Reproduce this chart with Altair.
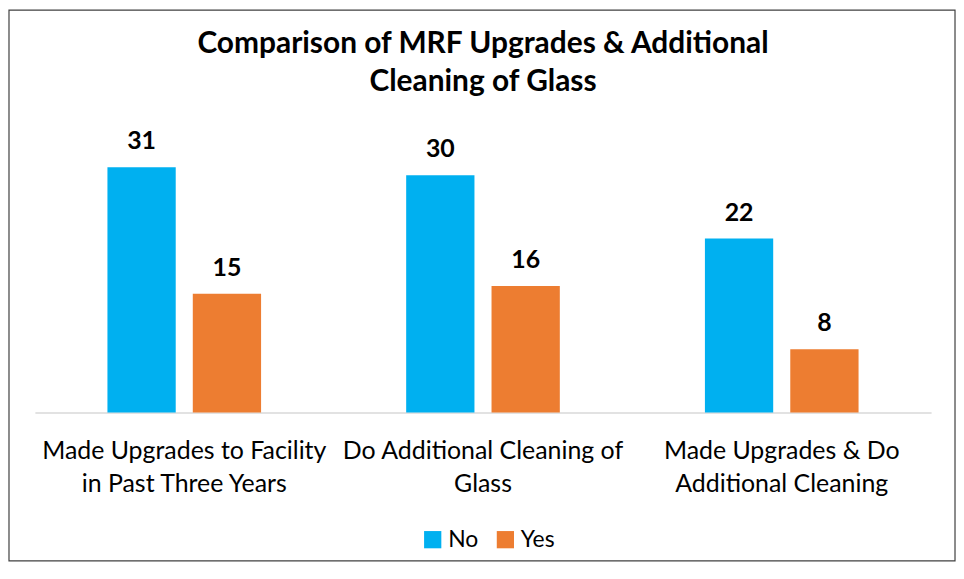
import altair as alt
import pandas as pd

categories = [
    "Made Upgrades to Facility\nin Past Three Years",
    "Do Additional Cleaning of\nGlass",
    "Made Upgrades & Do\nAdditional Cleaning",
]
series = ["No", "Yes"]
no_values = [31, 30, 22]
yes_values = [15, 16, 8]

rows = []
for c, n, y in zip(categories, no_values, yes_values):
    rows.append({"category": c, "series": "No", "value": n})
    rows.append({"category": c, "series": "Yes", "value": y})
df = pd.DataFrame(rows)

FONT = "Lato"

x = alt.X(
    "category:N",
    sort=categories,
    scale=alt.Scale(paddingInner=0.0, paddingOuter=0.0),
    axis=alt.Axis(
        title=None,
        labelAngle=0,
        labelExpr="split(datum.label, '\\n')",
        labelFont=FONT,
        labelFontSize=25,
        labelColor="#000000",
        labelLineHeight=33,
        labelPadding=26,
        labelLimit=500,
        ticks=False,
        domainColor="#D9D9D9",
        domainWidth=1.5,
        grid=False,
    ),
)
xo = alt.XOffset(
    "series:N",
    sort=series,
    scale=alt.Scale(paddingInner=0.2, paddingOuter=0.85),
)
y = alt.Y("value:Q", scale=alt.Scale(domain=[0, 35]), axis=None)
color = alt.Color(
    "series:N",
    sort=series,
    scale=alt.Scale(domain=series, range=["#00B0F0", "#ED7D31"]),
    legend=alt.Legend(
        title=None,
        orient="none",
        legendX=388,
        legendY=394,
        direction="horizontal",
        symbolType="square",
        symbolSize=300,
        symbolStrokeWidth=0,
        labelFont=FONT,
        labelFontSize=23,
        labelColor="#000000",
        columnPadding=15,
    ),
)

base = alt.Chart(df)
bars = base.mark_bar().encode(x=x, xOffset=xo, y=y, color=color)
labels = base.mark_text(
    baseline="alphabetic", dy=-18, fontSize=25, fontWeight="bold", font=FONT, color="#000000"
).encode(x=x, xOffset=xo, y=y, text="value:Q")

border = alt.Chart(alt.Data(values=[{}])).mark_rect(
    fill=None, stroke="#404040", strokeWidth=1.2
).encode(
    x=alt.value(-26), x2=alt.value(924), y=alt.value(-126), y2=alt.value(427)
)

chart = (
    alt.layer(border, bars, labels)
    .properties(
        width=900,
        height=278,
        background="#FFFFFF",
        title=alt.TitleParams(
            text=["Comparison of MRF Upgrades & Additional", "Cleaning of Glass"],
            font=FONT,
            fontSize=30,
            fontWeight="bold",
            color="#000000",
            anchor="middle",
            lineHeight=38,
            offset=-88,
        ),
        autosize=alt.AutoSizeParams(type="none"),
        padding={"left": 27, "top": 127, "right": 25, "bottom": 151},
    )
    .configure_view(strokeWidth=0)
)

chart.save("out.html", embed_options={"renderer": "svg", "actions": False})
